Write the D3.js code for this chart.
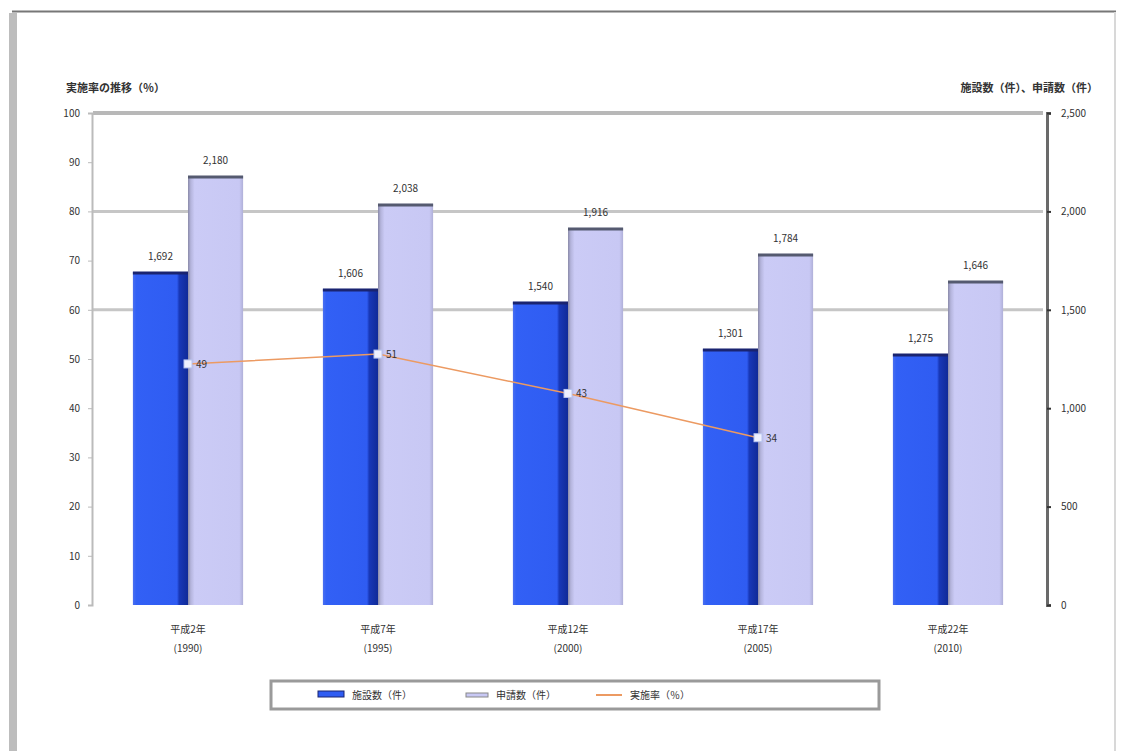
<!DOCTYPE html>
<html>
<head>
<meta charset="utf-8">
<script src="https://cdn.jsdelivr.net/npm/d3@7"></script>
<style>
  html, body { margin: 0; padding: 0; background: #fff; }
  svg { display: block; }
  text { font-family: "Noto Sans CJK JP", "Noto Sans", sans-serif; fill: #333; }
</style>
</head>
<body>
<svg id="chart" width="1121" height="751"></svg>
<script>
// 年次（和暦・西暦）
const categories = ["平成2年", "平成7年", "平成12年", "平成17年", "平成22年"];
const yearLabels = ["(1990)", "(1995)", "(2000)", "(2005)", "(2010)"];
// 右軸：件数
const facilityCounts = [1692, 1606, 1540, 1301, 1275];
const applicationCounts = [2180, 2038, 1916, 1784, 1646];
// 左軸：割合（％）
const rates = [49, 51, 43, 34, null];
// 軸目盛
const leftTicks = [0, 10, 20, 30, 40, 50, 60, 70, 80, 90, 100];
const rightTicks = [0, 500, 1000, 1500, 2000, 2500];
const gridTicks = [60, 80, 100];
const seriesNames = ["施設数（件）", "申請数（件）", "実施率（％）"];
const leftTitle = "実施率の推移（％）";
const rightTitle = "施設数（件）、申請数（件）";

const svg = d3.select("#chart");
const plot = { left: 93, right: 1043, top: 113, bottom: 605 };

const x = d3.scaleBand().domain(categories).range([plot.left, plot.right])
  .paddingInner(0.42).paddingOuter(0.21);
const sub = d3.scaleBand().domain(["a", "b"]).range([0, x.bandwidth()]);
const yLeft = d3.scaleLinear().domain([0, 100]).range([plot.bottom, plot.top]);
const yRight = d3.scaleLinear().domain([0, 2500]).range([plot.bottom, plot.top]);

// outer frame
svg.append("rect").attr("x", 9).attr("y", 13).attr("width", 8).attr("height", 738).attr("fill", "#bdbdbd");
svg.append("line").attr("x1", 12).attr("x2", 1116).attr("y1", 11.5).attr("y2", 11.5)
  .attr("stroke", "#777").attr("stroke-width", 2);
svg.append("line").attr("x1", 1115).attr("x2", 1115).attr("y1", 12).attr("y2", 751)
  .attr("stroke", "#d8d8d8").attr("stroke-width", 2);

// gradients for bar shading
const defs = svg.append("defs");
const gDark = defs.append("linearGradient").attr("id", "gDark");
[[0, "#4a70f0"], [0.06, "#3260f5"], [0.8, "#2f5cf2"], [0.84, "#1838b8"], [1, "#102a98"]]
  .forEach(([o, c]) => gDark.append("stop").attr("offset", o).attr("stop-color", c));
const gLight = defs.append("linearGradient").attr("id", "gLight");
[[0, "#8a8aa8"], [0.05, "#b4b4dc"], [0.12, "#cbcbf6"], [0.93, "#c8c8f4"], [1, "#b0b0d8"]]
  .forEach(([o, c]) => gLight.append("stop").attr("offset", o).attr("stop-color", c));

// gridlines
svg.append("g").selectAll("line").data(gridTicks).join("line")
  .attr("x1", plot.left).attr("x2", plot.right)
  .attr("y1", d => yLeft(d)).attr("y2", d => yLeft(d))
  .attr("stroke", d => d === 100 ? "#b8b8b8" : "#c6c6c6")
  .attr("stroke-width", d => d === 100 ? 4 : 3);

// left axis
const axL = svg.append("g").attr("transform", `translate(${plot.left - 1},0)`)
  .call(d3.axisLeft(yLeft).tickValues(leftTicks).tickSize(4).tickPadding(8));
axL.select(".domain").attr("stroke", "#bbb").attr("stroke-width", 2);
axL.selectAll(".tick line").attr("stroke", "#bbb");
axL.selectAll("text").attr("font-size", 10).attr("fill", "#666");

// right axis
const axR = svg.append("g").attr("transform", `translate(${plot.right + 4},0)`)
  .call(d3.axisRight(yRight).tickValues(rightTicks).tickSize(4).tickPadding(10).tickFormat(d3.format(",")));
axR.select(".domain").attr("stroke", "#6a6a6a").attr("stroke-width", 3);
axR.selectAll(".tick line").attr("stroke", "#333").attr("stroke-width", 2);
axR.selectAll("text").attr("font-size", 10).attr("fill", "#666");

// bars
const groups = svg.append("g").selectAll("g").data(categories).join("g")
  .attr("transform", d => `translate(${x(d)},0)`);

groups.append("rect")
  .attr("x", sub("a")).attr("width", sub.bandwidth())
  .attr("y", (d, i) => yRight(facilityCounts[i]))
  .attr("height", (d, i) => yRight(0) - yRight(facilityCounts[i]))
  .attr("fill", "url(#gDark)");
groups.append("line")
  .attr("x1", sub("a")).attr("x2", sub("a") + sub.bandwidth())
  .attr("y1", (d, i) => yRight(facilityCounts[i]) + 1).attr("y2", (d, i) => yRight(facilityCounts[i]) + 1)
  .attr("stroke", "#1a2470").attr("stroke-width", 3);

groups.append("rect")
  .attr("x", sub("b")).attr("width", sub.bandwidth())
  .attr("y", (d, i) => yRight(applicationCounts[i]))
  .attr("height", (d, i) => yRight(0) - yRight(applicationCounts[i]))
  .attr("fill", "url(#gLight)");
groups.append("line")
  .attr("x1", sub("b")).attr("x2", sub("b") + sub.bandwidth())
  .attr("y1", (d, i) => yRight(applicationCounts[i]) + 1).attr("y2", (d, i) => yRight(applicationCounts[i]) + 1)
  .attr("stroke", "#555a70").attr("stroke-width", 3);

// bar value labels
const fmt = d3.format(",");
groups.append("text")
  .attr("x", sub("a") + sub.bandwidth() / 2)
  .attr("y", (d, i) => yRight(facilityCounts[i]) - 12)
  .attr("text-anchor", "middle").attr("font-size", 10).attr("fill", "#555")
  .text((d, i) => fmt(facilityCounts[i]));
groups.append("text")
  .attr("x", sub("b") + sub.bandwidth() / 2)
  .attr("y", (d, i) => yRight(applicationCounts[i]) - 12)
  .attr("text-anchor", "middle").attr("font-size", 10).attr("fill", "#555")
  .text((d, i) => fmt(applicationCounts[i]));

// category labels
groups.append("text")
  .attr("x", x.bandwidth() / 2).attr("y", 633)
  .attr("text-anchor", "middle").attr("font-size", 10).attr("fill", "#555")
  .text(d => d);
groups.append("text")
  .attr("x", x.bandwidth() / 2).attr("y", 652)
  .attr("text-anchor", "middle").attr("font-size", 10).attr("fill", "#555")
  .text((d, i) => yearLabels[i]);

// rate line
const ratePoints = categories.map((c, i) => ({ c, v: rates[i] })).filter(d => d.v != null);
const cx = d => x(d.c) + x.bandwidth() / 2;
svg.append("path").datum(ratePoints)
  .attr("d", d3.line().x(cx).y(d => yLeft(d.v)))
  .attr("fill", "none").attr("stroke", "#ec9a62").attr("stroke-width", 1.5);
svg.append("g").selectAll("rect").data(ratePoints).join("rect")
  .attr("x", d => cx(d) - 4).attr("y", d => yLeft(d.v) - 4)
  .attr("width", 8).attr("height", 8)
  .attr("fill", "#eef0ff").attr("stroke", "#b8c4f0").attr("stroke-width", 1);
svg.append("g").selectAll("text").data(ratePoints).join("text")
  .attr("x", d => cx(d) + 8).attr("y", d => yLeft(d.v) + 4)
  .attr("font-size", 10).attr("fill", "#444")
  .text(d => d.v);

// axis titles
svg.append("text").attr("x", 66).attr("y", 92).attr("font-size", 11).attr("font-weight", "bold")
  .attr("fill", "#222").text(leftTitle);
svg.append("text").attr("x", 1098).attr("y", 92).attr("text-anchor", "end").attr("font-size", 11)
  .attr("font-weight", "bold").attr("fill", "#222").text(rightTitle);

// legend
const lg = svg.append("g");
lg.append("rect").attr("x", 271).attr("y", 681).attr("width", 608).attr("height", 28)
  .attr("fill", "#fff").attr("stroke", "#9a9a9a").attr("stroke-width", 3);
lg.append("rect").attr("x", 318).attr("y", 691).attr("width", 26).attr("height", 6).attr("fill", "#2f5cf2")
  .attr("stroke", "#1a2470").attr("stroke-width", 1);
lg.append("text").attr("x", 352).attr("y", 699).attr("font-size", 10).attr("fill", "#444").text(seriesNames[0]);
lg.append("rect").attr("x", 466).attr("y", 693).attr("width", 22).attr("height", 4).attr("fill", "#c8c8f4")
  .attr("stroke", "#888").attr("stroke-width", 1);
lg.append("text").attr("x", 496).attr("y", 699).attr("font-size", 10).attr("fill", "#444").text(seriesNames[1]);
lg.append("line").attr("x1", 596).attr("x2", 622).attr("y1", 695).attr("y2", 695)
  .attr("stroke", "#ec9a62").attr("stroke-width", 2);
lg.append("text").attr("x", 630).attr("y", 699).attr("font-size", 10).attr("fill", "#444").text(seriesNames[2]);
</script>
</body>
</html>
